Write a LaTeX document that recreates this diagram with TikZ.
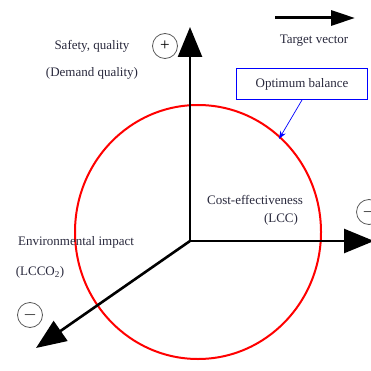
\documentclass[tikz,border=0pt]{standalone}
\usepackage{fontspec}
\setmainfont{Liberation Serif}
\usetikzlibrary{arrows.meta}
\definecolor{txt}{RGB}{40,40,60}
\tikzset{
  axis/.style={line width=2.6pt,-{Triangle[length=30pt,width=24pt]}},
  lbl/.style={font=\fontsize{13}{14}\selectfont,text=txt,inner sep=0pt},
  sign/.style={circle,draw=black!65,line width=0.8pt,minimum size=25pt,inner sep=0pt,font=\fontsize{17}{17}\selectfont}
}
\begin{document}
\begin{tikzpicture}[x=1pt,y=-1pt]
\useasboundingbox (0,0) rectangle (371,371);
\coordinate (o) at (190,241);
\coordinate (up) at (190,27);
\coordinate (rt) at (374,241);
\coordinate (dl) at (36,348);
\draw[red,line width=2pt] (198,232) ellipse [x radius=123, y radius=127];
\draw[axis] (o) -- (up);
\draw[axis] (o) -- (rt);
\draw[axis] (o) -- (dl);
\coordinate (tv1) at (275,18);
\coordinate (tv2) at (355,18);
\draw[line width=3pt,-{Triangle[length=24pt,width=15pt]}] (tv1) -- (tv2);
\node[lbl] (tvl) at (314,41) {Target vector};
\node[draw=blue,line width=1pt,minimum width=131pt,minimum height=31pt,lbl] (ob) at (302,84) {Optimum balance};
\coordinate (obt) at (279,139);
\draw[blue,line width=0.7pt,-{Stealth[length=8pt,width=6pt]}] (ob.south) -- (obt);
\node[lbl] (s1) at (92,46) {Safety, quality};
\node[lbl] (s2) at (92,73) {(Demand quality)};
\node[sign] (pl) at (165,46) {+};
\node[sign] (m1) at (369,212) {$-$};
\node[lbl] (c1) at (255,200) {Cost-effectiveness};
\node[lbl] (c2) at (281,219) {(LCC)};
\node[lbl] (e1) at (76,242) {Environmental impact};
\node[lbl] (e2) at (40,272) {(LCCO\textsubscript{2})};
\node[sign] (m2) at (30,315) {$-$};
\end{tikzpicture}
\end{document}
